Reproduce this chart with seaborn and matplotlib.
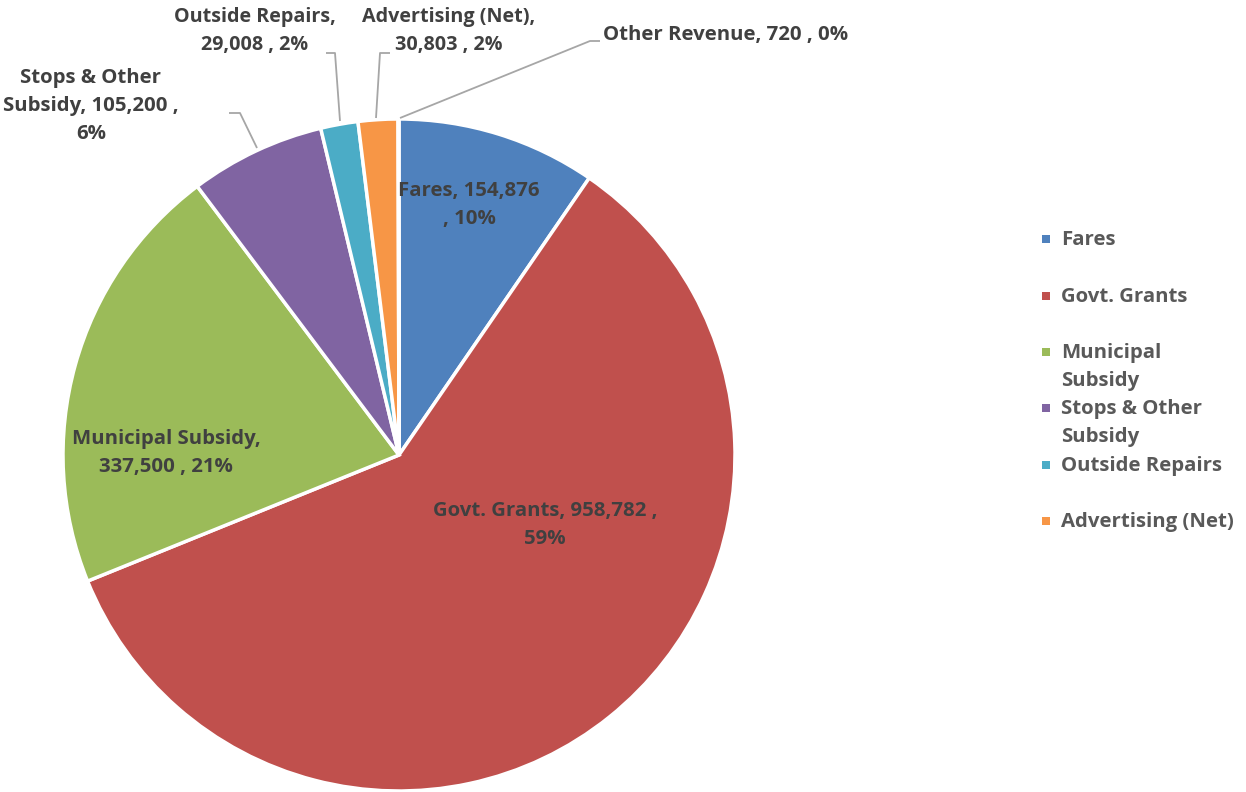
import matplotlib
matplotlib.use("Agg")
import matplotlib.pyplot as plt
import seaborn as sns
from matplotlib.patches import Rectangle

# Revenue sources and amounts
categories = ["Fares", "Govt. Grants", "Municipal Subsidy", "Stops & Other Subsidy",
              "Outside Repairs", "Advertising (Net)", "Other Revenue"]
values = [154876, 958782, 337500, 105200, 29008, 30803, 720]
percents = ["10%", "59%", "21%", "6%", "2%", "2%", "0%"]
colors = ["#4F81BD", "#C0504D", "#9BBB59", "#8064A2", "#4BACC6", "#F79646", "#2C4D75"]

# Data-label text, wrapped the way the chart shows it
label_texts = [
    "Fares, 154,876\n, 10%",
    "Govt. Grants, 958,782 ,\n59%",
    "Municipal Subsidy,\n337,500 , 21%",
    "Stops & Other\nSubsidy, 105,200 ,\n6%",
    "Outside Repairs,\n29,008 , 2%",
    "Advertising (Net),\n30,803 , 2%",
    "Other Revenue, 720 , 0%",
]
legend_labels = ["Fares", "Govt. Grants", "Municipal\nSubsidy", "Stops & Other\nSubsidy",
                 "Outside Repairs", "Advertising (Net)"]

sns.set_theme(style="white")
plt.rcParams["font.family"] = ["Open Sans", "DejaVu Sans"]

W, H = 1246, 792
fig = plt.figure(figsize=(W / 100, H / 100), dpi=100)
fig.patch.set_facecolor("white")

cx, cy, r = 399, 455, 336
ax = fig.add_axes([(cx - r) / W, (H - cy - r) / H, 2 * r / W, 2 * r / H])
ax.pie(values, colors=colors, startangle=90, counterclock=False,
       wedgeprops=dict(edgecolor="white", linewidth=2.5))
ax.set_xlim(-1, 1)
ax.set_ylim(-1, 1)
ax.set_aspect("equal")
ax.axis("off")


def to_data(px, py):
    return (px - cx) / r, (cy - py) / r


label_color = "#404040"
fs = 14.7
# label centres (pixel space), alignment and size
label_pos = [
    (469, 205, "center", fs),
    (545, 525, "center", fs),
    (166, 453, "center", fs),
    (91, 106, "center", fs),
    (255, 31, "center", 14.2),
    (449, 31, "center", 14.2),
    (603, 35, "left", fs),
]
for txt, (px, py, ha, size) in zip(label_texts, label_pos):
    x, y = to_data(px, py)
    ax.text(x, y, txt, ha=ha, va="center", fontsize=size, fontweight="bold",
            color=label_color, linespacing=1.55, clip_on=False)

# leader lines for the small slices
leaders = [
    [(229, 113), (240, 113), (257, 148)],
    [(326, 53), (335, 53), (340, 121)],
    [(390, 53), (380, 53), (376, 118)],
    [(600, 41), (590, 41), (400, 118)],
]
for pts in leaders:
    xs, ys = zip(*[to_data(px, py) for px, py in pts])
    ax.plot(xs, ys, color="#A6A6A6", lw=1.3, clip_on=False, solid_capstyle="butt")

# legend on the right
leg_y = [239, 296, 352, 408, 465, 521]
for lab, col, py in zip(legend_labels, colors, leg_y):
    fig.patches.append(Rectangle(((1046 - 4) / W, (H - py - 4) / H), 8 / W, 8 / H,
                                 transform=fig.transFigure, facecolor=col,
                                 edgecolor="none"))
    fig.text(1061 / W, (H - py + 9) / H, lab, ha="left", va="top", fontsize=fs,
             fontweight="bold", color="#595959", linespacing=1.52)

fig.savefig("out.png", dpi=100, facecolor="white")
